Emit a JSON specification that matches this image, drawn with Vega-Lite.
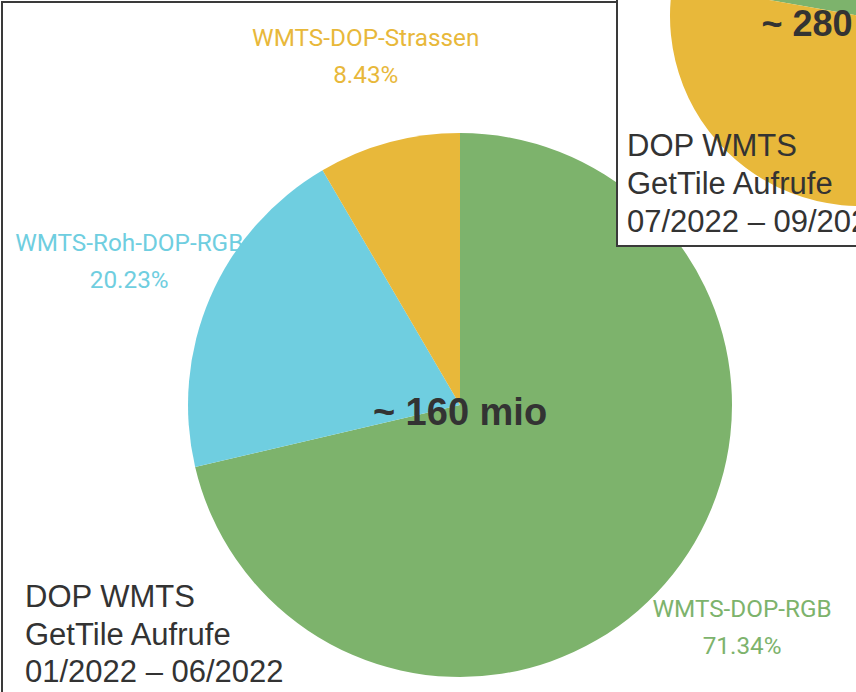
{
  "$schema": "https://vega.github.io/schema/vega-lite/v6.json",
  "width": 854,
  "height": 690,
  "autosize": {"type": "none"},
  "padding": {"left": 2, "top": 2, "right": 0, "bottom": 0},
  "background": "white",
  "config": {"view": {"stroke": null}},
  "datasets": {
    "h1_2022": [
      {"segment": "WMTS-DOP-RGB", "share": 0.7134},
      {"segment": "WMTS-Roh-DOP-RGB", "share": 0.2023},
      {"segment": "WMTS-DOP-Strassen", "share": 0.0843}
    ],
    "q3_2022": [
      {"segment": "WMTS-DOP-RGB", "share": 0.50},
      {"segment": "WMTS-Roh-DOP-RGB", "share": 0.15},
      {"segment": "WMTS-DOP-Strassen", "share": 0.35}
    ]
  },
  "resolve": {"scale": {"theta": "independent"}},
  "layer": [
    {
      "data": {"values": [{}]},
      "mark": {"type": "rect", "x": 0, "x2": 920, "y": 0, "y2": 760, "fill": null, "fillOpacity": 0, "stroke": "#3a3a3a", "strokeWidth": 2},
      "encoding": {}
    },
    {
      "data": {"name": "h1_2022"},
      "encoding": {
        "theta": {"field": "share", "type": "quantitative", "stack": true},
        "order": {"field": "share", "type": "quantitative", "sort": "descending"},
        "color": {
          "field": "segment",
          "type": "nominal",
          "legend": null,
          "scale": {
            "domain": ["WMTS-DOP-RGB", "WMTS-Roh-DOP-RGB", "WMTS-DOP-Strassen"],
            "range": ["#7db36c", "#6fcee0", "#e8b83a"]
          }
        }
      },
      "layer": [
        {
          "mark": {"type": "text", "x": 458, "y": 403, "radius": 360, "dy": -19, "font": "Roboto", "fontSize": 24.3, "align": "center", "baseline": "middle"},
          "encoding": {"text": {"field": "segment", "type": "nominal"}}
        },
        {
          "mark": {"type": "text", "x": 458, "y": 403, "radius": 360, "dy": 18, "font": "Roboto", "fontSize": 24.3, "align": "center", "baseline": "middle"},
          "encoding": {"text": {"field": "share", "type": "quantitative", "format": ".2%"}}
        },
        {"mark": {"type": "arc", "x": 458, "y": 403, "radius": 272}}
      ]
    },
    {
      "data": {"values": [{}]},
      "mark": {"type": "text", "text": "~ 160 mio", "x": 458, "y": 412, "font": "Liberation Sans", "fontWeight": "bold", "fontSize": 38, "fill": "#333333", "align": "center", "baseline": "middle"},
      "encoding": {}
    },
    {
      "data": {"values": [{}]},
      "mark": {"type": "text", "text": ["DOP WMTS", "GetTile Aufrufe", "01/2022 – 06/2022"], "x": 23, "y": 605, "font": "Liberation Sans", "fontSize": 31, "lineHeight": 37.5, "fill": "#333333", "align": "left", "baseline": "alphabetic"},
      "encoding": {}
    },
    {
      "data": {"values": [{}]},
      "mark": {"type": "rect", "x": 615, "x2": 920, "y": -20, "y2": 244, "fill": "white", "stroke": "#3a3a3a", "strokeWidth": 2},
      "encoding": {}
    },
    {
      "data": {"name": "q3_2022"},
      "encoding": {
        "theta": {"field": "share", "type": "quantitative", "stack": true, "scale": {"range": [1.7453, 8.0285]}},
        "order": {"field": "segment", "type": "nominal", "sort": "descending"},
        "color": {"field": "segment", "type": "nominal", "legend": null}
      },
      "layer": [
        {"mark": {"type": "arc", "x": 858, "y": 14, "radius": 190}}
      ]
    },
    {
      "data": {"values": [{}]},
      "mark": {"type": "text", "text": "~ 280 mio", "x": 842, "y": 23, "font": "Liberation Sans", "fontWeight": "bold", "fontSize": 36, "fill": "#333333", "align": "center", "baseline": "middle"},
      "encoding": {}
    },
    {
      "data": {"values": [{}]},
      "mark": {"type": "text", "text": ["DOP WMTS", "GetTile Aufrufe", "07/2022 – 09/2022"], "x": 625, "y": 154, "font": "Liberation Sans", "fontSize": 31, "lineHeight": 38, "fill": "#333333", "align": "left", "baseline": "alphabetic"},
      "encoding": {}
    }
  ]
}
